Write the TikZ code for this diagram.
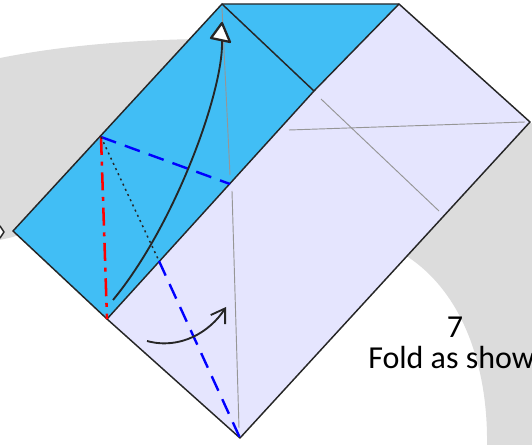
\documentclass[tikz,border=0pt]{standalone}
\usepackage{fontspec}
\setmainfont{Carlito}
\usetikzlibrary{arrows.meta}
\definecolor{flapcol}{RGB}{65, 190, 245}
\definecolor{papercol}{RGB}{229, 229, 254}
\definecolor{ringcol}{RGB}{220, 220, 220}
\definecolor{creasecol}{RGB}{150, 150, 150}
\tikzset{
  edge/.style={draw=black!85, line width=1.1pt, line join=round},
  crease/.style={creasecol, line width=0.7pt},
  valley/.style={blue, line width=1.8pt, dash pattern=on 12pt off 7pt},
  mountain/.style={red, line width=1.9pt, dash pattern=on 13.5pt off 5pt on 3pt off 5pt},
  flow/.style={black!85, line width=1.4pt},
  caption/.style={font=\fontsize{24}{26}\selectfont, inner sep=0pt},
}

\begin{document}
\begin{tikzpicture}[x=0.75pt, y=-0.75pt]
  \useasboundingbox (0,0) rectangle (532,445);
  \clip (0,0) rectangle (532,445);

  % corners of the paper
  \coordinate (top) at (222,4);
  \coordinate (topr) at (399,4);
  \coordinate (right) at (530,122);
  \coordinate (bottom) at (240,438);
  \coordinate (left) at (13,231);
  \coordinate (tip) at (107,319);
  \coordinate (notch) at (314,91);
  \coordinate (pinch) at (101,137);
  \coordinate (midedge) at (230,184);
  \coordinate (lowedge) at (159,261);

  % grey ring behind the paper
  \fill[ringcol] (0,58) .. controls (60,46) and (130,40) .. (200,39)
    -- (300,100) -- (right) -- (532,124) -- (532,445) -- (487,445)
    .. controls (488,370) and (465,295) .. (408,257)
    -- (100,200) -- (13,237) -- (0,240) -- cycle;
  \draw[edge, fill=white] (-6,232) -- (0,226) -- (4,232) -- (0,238) -- cycle;

  \fill[papercol] (top) -- (topr) -- (right) -- (bottom) -- (tip) -- (notch) -- cycle;
  \fill[flapcol] (top) -- (topr) -- (notch) -- (tip) -- (left) -- cycle;

  % creases
  \draw[crease] (222,8) -- (230,175);
  \draw[crease] (232,191) -- (239,428);
  \draw[crease] (289,130) -- (525,122);
  \draw[crease] (321,99) -- (439,211);

  \draw[edge] (top) -- (topr) -- (right) -- (bottom) -- (tip) -- (left) -- cycle;
  \draw[edge] (tip) -- (notch);
  \draw[edge] (notch) -- (topr);
  \draw[edge] (top) -- (notch);

  % fold lines
  \draw[valley] (pinch) -- (midedge);
  \draw[valley] (lowedge) -- (bottom);
  \draw[mountain] (pinch) -- (tip);
  \draw[black!85, line width=1.1pt, dash pattern=on 1.5pt off 2.8pt] (pinch) -- (lowedge);

  % arrows
  \coordinate (liftfrom) at (113,300);
  \coordinate (liftto) at (222,40);
  \draw[flow] (liftfrom) .. controls (175,225) and (224,90) .. (liftto);
  \draw[black!85, line width=1.7pt, fill=white, line join=round] (222,23) -- (211,38) -- (230,42) -- cycle;

  \coordinate (swingfrom) at (147,341);
  \coordinate (swingto) at (226,307);
  \draw[flow, -{Straight Barb[length=3.5mm, width=4.5mm]}] (swingfrom) .. controls (180,350) and (210,332) .. (swingto);

  \node[caption] (stepnum) at (455,327) {7};
  \node[caption, anchor=west] (steptext) at (368,358) {Fold as show};
\end{tikzpicture}
\end{document}
